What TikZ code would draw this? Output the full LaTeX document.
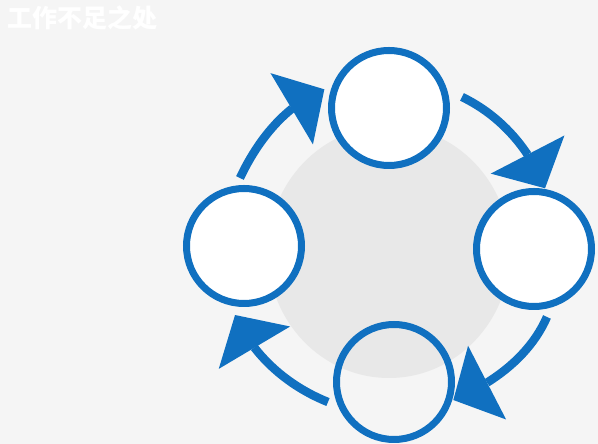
\documentclass[tikz,border=0pt]{standalone}
\usepackage{fontspec}
\newfontfamily\cjk{Noto Sans CJK SC}
\usetikzlibrary{arrows.meta,bending,calc}
\definecolor{bl}{RGB}{16,112,192}
\definecolor{bg}{RGB}{245,245,245}
\definecolor{blob}{RGB}{232,232,232}
\begin{document}
\begin{tikzpicture}[x=1pt,y=1pt,
  ring/.style={circle,draw=bl,line width=7pt,fill=white,minimum size=115pt,inner sep=0pt},
  flow/.style={draw=bl,line width=8.5pt,-{Triangle[length=38pt,width=83pt,line width=0pt,flex]},looseness=0.88},
  title/.style={anchor=base west,inner sep=0pt,text=white,font=\cjk\bfseries\fontsize{25}{30}\selectfont}]
\fill[bg] (0,0) rectangle (598,444);
\useasboundingbox (0,0) rectangle (598,444);
\fill[blob] (389,192) ellipse [x radius=121, y radius=126];
\node[ring] (top) at (389,336) {};
\node[ring] (right) at (534,195) {};
\node[ring,fill=none] (bottom) at (394,62) {};
\node[ring] (left) at (244,198) {};
\draw[flow] ($(left)+(93.4:68.1)$) to[out=64.8,in=202.3] ($(top)+(163.9:67.3)$);
\draw[flow] ($(top)+(8.6:73.8)$) to[out=-25.6,in=111.1] ($(right)+(79.7:61.7)$);
\draw[flow] ($(right)+(-79.2:69.2)$) to[out=-113.6,in=22.8] ($(bottom)+(-16.9:62)$);
\draw[flow] ($(bottom)+(196.9:69)$) to[out=158.2,in=-66.6] ($(left)+(262.6:69.6)$);
\node[title] (t) at (7,416) {工作不足之处};
\end{tikzpicture}
\end{document}
